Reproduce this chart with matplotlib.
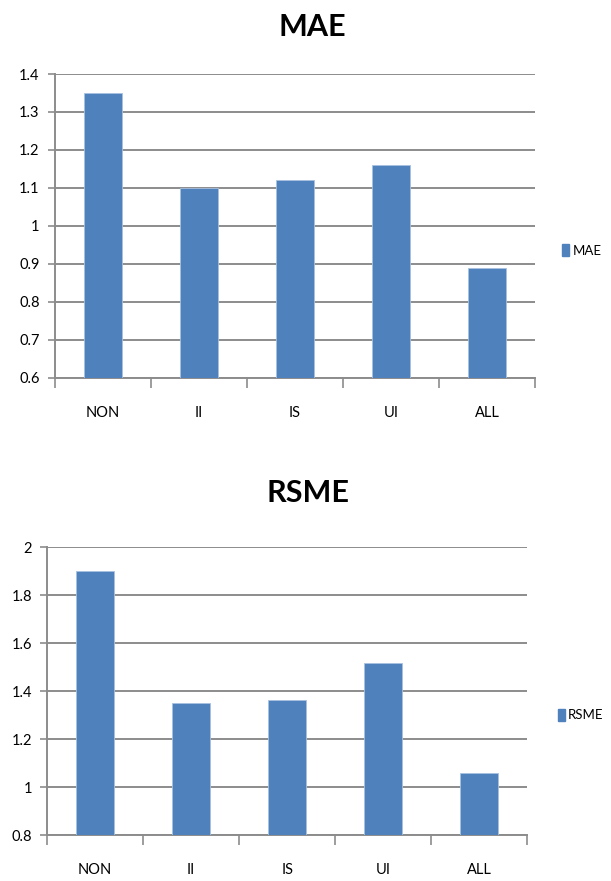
import numpy as np
import matplotlib.pyplot as plt
from matplotlib.patches import Patch

categories = ['NON', 'II', 'IS', 'UI', 'ALL']
mae = [1.35, 1.10, 1.12, 1.16, 0.89]
rsme = [1.90, 1.35, 1.365, 1.517, 1.06]

plt.rcParams['font.family'] = ['Lato', 'DejaVu Sans']

bar_color = '#4F81BD'
grid_color = '#8c8c8c'

fig = plt.figure(figsize=(6.11, 8.81), dpi=100, facecolor='white')


def draw_panel(rect, values, name, ylim, step, legend_xy):
    ax = fig.add_axes(rect)
    X = np.arange(len(categories))
    ax.bar(X, np.array(values) - ylim[0], bottom=ylim[0], width=0.4,
           color=bar_color, edgecolor='#a9c1e0', linewidth=0.6, zorder=3)
    ax.set_xlim(-0.5, len(categories) - 0.5)
    ax.set_ylim(*ylim)
    yt = np.arange(ylim[0], ylim[1] + step / 2, step)
    ax.set_yticks(yt)
    ax.set_yticklabels(['%g' % round(v, 2) for v in yt], fontsize=10.5)
    ax.yaxis.grid(True, color=grid_color, linewidth=1.4, zorder=0)
    ax.set_xticks(X)
    ax.set_xticklabels(categories, fontsize=10.5)
    ax.set_xticks(np.arange(-0.5, len(categories)), minor=True)
    ax.tick_params(axis='x', which='major', length=0, pad=20)
    ax.tick_params(axis='x', which='minor', length=7, width=1.2, color=grid_color)
    ax.tick_params(axis='y', length=5, width=1.2, color=grid_color, pad=6)
    for s in ('top', 'right'):
        ax.spines[s].set_visible(False)
    for s in ('left', 'bottom'):
        ax.spines[s].set_color(grid_color)
        ax.spines[s].set_linewidth(1.4)
    ax.legend(handles=[Patch(color=bar_color, label=name)], loc='center left',
              bbox_to_anchor=legend_xy, frameon=False, fontsize=9.5,
              borderpad=0, borderaxespad=0,
              handlelength=0.55, handleheight=1.0, handletextpad=0.25)
    return ax


draw_panel([0.090, 0.571, 0.786, 0.345], mae, 'MAE', (0.6, 1.4), 0.1, (1.056, 0.42))
draw_panel([0.077, 0.052, 0.786, 0.327], rsme, 'RSME', (0.8, 2.0), 0.2, (1.063, 0.417))

fig.text(312 / 611, 1 - 27 / 881, 'MAE', ha='center', va='center',
         fontsize=22, fontweight='bold')
fig.text(308 / 611, 1 - 493 / 881, 'RSME', ha='center', va='center',
         fontsize=22, fontweight='bold')

fig.savefig('out.png', dpi=100)
